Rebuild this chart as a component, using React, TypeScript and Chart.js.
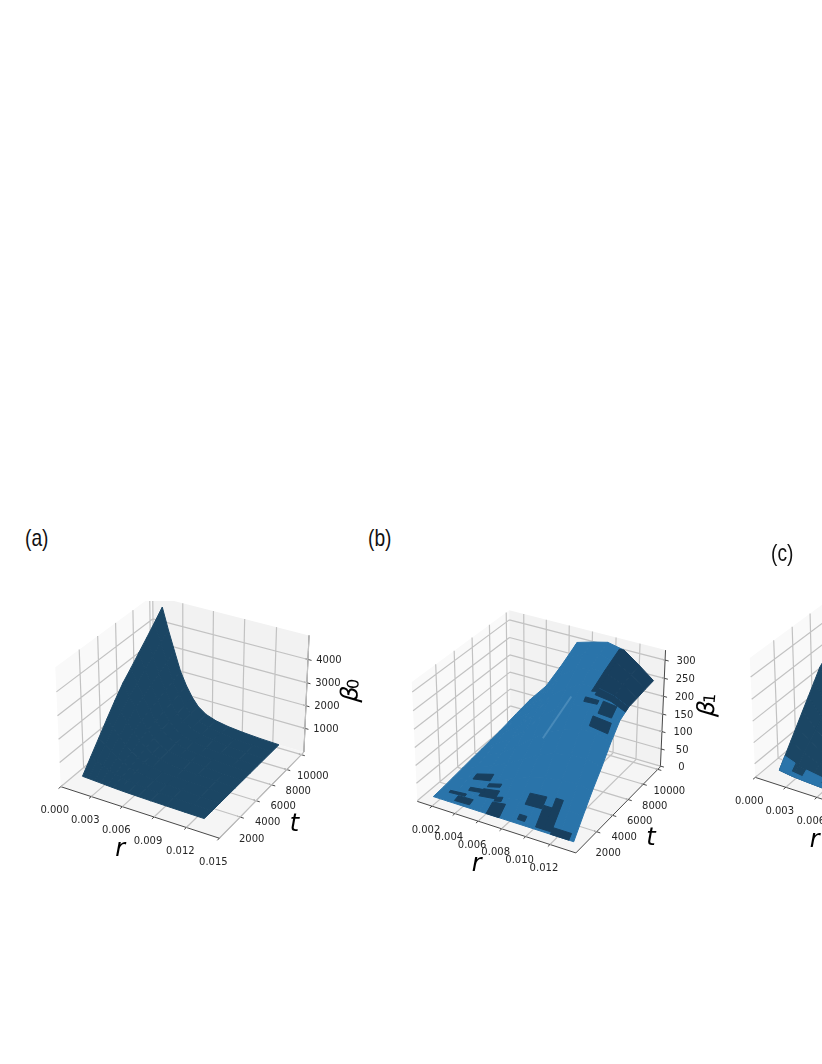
import React, { useEffect, useRef } from "react";
import { Chart, registerables } from "chart.js";

Chart.register(...registerables);

// ---------- axis limits and ticks ----------
const tLimits = [-500, 10360];
const tTicks = [2000, 4000, 6000, 8000, 10000];
const rLimitsA = [0, 0.015];
const rTicksA = [0, 0.003, 0.006, 0.009, 0.012, 0.015];
const zLimitsA = [-67, 5013];
const zTicksA = [1000, 2000, 3000, 4000];
const rLimitsB = [0.0007, 0.0141];
const rTicksB = [0.002, 0.004, 0.006, 0.008, 0.01, 0.012];
const zLimitsB = [-2, 327];
const zTicksB = [0, 50, 100, 150, 200, 250, 300];
const rLimitsC = [0, 0.015];
const rTicksC = [0, 0.003, 0.006, 0.009, 0.012, 0.015];
const zLimitsC = [352, 5850];
const zTicksC = [1000, 2000, 3000, 4000, 5000];

// ---------- panel (a): beta_0(r, t), one row per r ----------
const rA = [0.0012, 0.0018, 0.0024, 0.003, 0.0036, 0.0042, 0.0048, 0.0056, 0.0066, 0.0078, 0.0092, 0.011, 0.0128];
const tA = [570, 1520, 2470, 3420, 4360, 5320, 6270, 7210, 8160, 9110, 10060];
const betaA = [
  [200, 730, 1260, 1790, 2300, 2780, 3150, 3540, 3920, 4320, 4730],
  [185, 613, 1040, 1468, 1882, 2273, 2570, 2890, 3210, 3510, 3800],
  [170, 509, 849, 1188, 1517, 1827, 2050, 2290, 2510, 2730, 2950],
  [155, 406, 657, 908, 1151, 1380, 1526, 1672, 1814, 1958, 2120],
  [140, 321, 501, 682, 857, 1022, 1127, 1232, 1334, 1438, 1540],
  [125, 248, 371, 495, 614, 727, 798, 870, 940, 1010, 1080],
  [112, 193, 274, 355, 434, 508, 555, 602, 648, 694, 740],
  [100, 149, 198, 247, 295, 339, 368, 396, 424, 452, 480],
  [90, 120, 149, 179, 208, 235, 252, 269, 286, 303, 320],
  [80, 98, 116, 134, 152, 168, 179, 189, 199, 210, 220],
  [70, 80, 91, 101, 111, 120, 126, 132, 138, 144, 150],
  [60, 65, 69, 74, 78, 82, 85, 87, 90, 92, 95],
  [50, 51, 53, 54, 55, 56, 57, 58, 59, 59, 60],
];

// ---------- panel (b): beta_1(r, t), one row per r ----------
const rB = [0.0015, 0.0028, 0.0042, 0.0055, 0.0069, 0.0082, 0.0095, 0.0109, 0.0122, 0.0134];
const tB = [270, 1360, 2450, 3530, 4620, 5710, 6800, 7890, 8970, 10060];
const betaB = [
  [3, 6, 10, 14, 18, 22, 26, 30, 35, 41],
  [3, 10, 20, 31, 42, 53, 64, 75, 85, 95],
  [3, 16, 32, 48, 64, 80, 96, 112, 128, 146],
  [3, 22, 44, 68, 92, 118, 141, 167, 192, 214],
  [3, 30, 62, 95, 130, 170, 206, 240, 270, 293],
  [3, 38, 78, 118, 160, 202, 238, 268, 290, 305],
  [3, 45, 90, 135, 180, 225, 260, 284, 302, 315],
  [3, 50, 98, 145, 192, 235, 262, 280, 293, 305],
  [3, 52, 100, 148, 195, 235, 252, 262, 270, 274],
  [3, 50, 95, 135, 180, 218, 233, 236, 240, 243],
];
// cells of the mesh drawn dark: [r index, t index]
const darkCellsB = [[7, 6], [7, 7], [7, 8], [8, 6], [8, 7], [8, 8]];
// dark regions: r0, r1, t0, t1, beta at (r0,t0), (r1,t0), (r0,t1), (r1,t1)
const darkRegionsB = [
  [0.0061, 0.0072, 270, 1020, 3, 3, 19, 24],
  [0.0087, 0.0101, 1240, 1830, 35, 37, 53, 57],
  [0.0086, 0.0092, 480, 750, 9, 9, 17, 17],
  [0.0102, 0.0109, 370, 1350, 7, 7, 45, 45],
  [0.0109, 0.0115, 370, 1780, 7, 7, 63, 63],
  [0.0115, 0.013, 270, 590, 3, 3, 14, 14],
  [0.0034, 0.0049, 2320, 2760, 28, 38, 33, 47],
  [0.0049, 0.006, 2000, 2215, 28, 38, 32, 42],
  [0.0047, 0.0061, 1290, 1835, 16, 22, 24, 32],
  [0.0036, 0.0049, 1560, 1780, 14, 20, 18, 24],
  [0.0061, 0.0067, 1180, 1400, 18, 23, 24, 30],
  [0.0023, 0.0037, 1020, 1180, 7, 10, 9, 13],
  [0.0032, 0.0045, 480, 910, 5, 6, 9, 11],
  [0.0105, 0.0109, 6560, 8190, 255, 258, 280, 282],
  [0.0105, 0.0109, 8190, 10060, 280, 282, 305, 305],
  [0.0109, 0.0122, 6400, 6800, 252, 246, 262, 252],
  [0.0122, 0.0134, 6400, 6800, 246, 228, 252, 233],
  [0.0103, 0.0114, 5910, 6120, 238, 240, 246, 246],
  [0.0117, 0.0128, 5580, 6230, 225, 222, 245, 240],
  [0.0114, 0.0129, 4985, 5420, 200, 192, 218, 212],
];
// the lighter crease on the surface: r, t, beta
const creaseB = [[0.0079, 4450, 143], [0.009, 6290, 232]];

// ---------- panel (c): beta_2(r, t), one row per r ----------
const rC = [0.0012, 0.0025, 0.004, 0.0055, 0.0075];
const tC = [805, 1460, 2150, 2840, 3530, 4230, 4920, 5610, 7090, 10060];
const betaC = [
  [400, 840, 1307, 1774, 2241, 2708, 3175, 3643, 4200, 5200],
  [300, 600, 930, 1260, 1590, 1900, 2220, 2550, 2950, 3640],
  [250, 420, 620, 820, 1020, 1230, 1430, 1640, 1890, 2340],
  [200, 320, 440, 570, 700, 830, 960, 1090, 1260, 1560],
  [150, 220, 290, 360, 440, 520, 590, 680, 780, 960],
];
const blueRegionsC = [
  [0.0012, 0.0022, 805, 1460, 400, 320, 840, 660],
  [0.0022, 0.0033, 805, 1000, 320, 270, 420, 340],
  [0.0033, 0.005, 805, 1460, 265, 215, 490, 350],
  [0.005, 0.0075, 805, 1050, 215, 150, 290, 200],
];

// ---------- view (matplotlib's 3D camera) ----------
const BOX = [1.143, 1.143, 0.857];
const DIST = 10;
const N = [0.433, -0.75, 0.5];
const U = [0.866, 0.5, 0];
const V = [-0.25, 0.433, 0.866];
const PX_PER_UNIT = 1590;
const dot = (a: number[], b: number[]) => a[0] * b[0] + a[1] * b[1] + a[2] * b[2];

function camera(xn: number, yn: number, zn: number) {
  const p = [(xn - 0.5) * BOX[0], (yn - 0.5) * BOX[1], (zn - 0.5) * BOX[2]];
  const d = DIST - dot(N, p);
  return { x: dot(U, p) / d, y: dot(V, p) / d };
}

type Panel = {
  left: number; top: number; width: number; height: number; cx: number; cy: number;
  rLim: number[]; zLim: number[]; rTicks: number[]; zTicks: number[];
  r: number[]; t: number[]; beta: number[][];
  surfaceColor: string; darkCells?: number[][]; regions: { color: string; list: number[][] }[];
  crease?: number[][]; zSub: string;
};

const DARK = "#183f5e";
const NAVY = "#1b4664";
const BLUE = "#2a74aa";

const panels: Panel[] = [
  {
    left: 0, top: 601, width: 365, height: 280, cx: 184.5, cy: 711.3,
    rLim: rLimitsA, zLim: zLimitsA, rTicks: rTicksA, zTicks: zTicksA,
    r: rA, t: tA, beta: betaA, surfaceColor: NAVY, regions: [], zSub: "0",
  },
  {
    left: 365, top: 601, width: 365, height: 290, cx: 541, cy: 726,
    rLim: rLimitsB, zLim: zLimitsB, rTicks: rTicksB, zTicks: zTicksB,
    r: rB, t: tB, beta: betaB, surfaceColor: BLUE, darkCells: darkCellsB,
    regions: [{ color: DARK, list: darkRegionsB }], crease: creaseB, zSub: "1",
  },
  {
    left: 730, top: 560, width: 92, height: 320, cx: 879, cy: 702,
    rLim: rLimitsC, zLim: zLimitsC, rTicks: rTicksC, zTicks: zTicksC,
    r: rC, t: tC, beta: betaC, surfaceColor: NAVY,
    regions: [{ color: BLUE, list: blueRegionsC }], zSub: "2",
  },
];

function buildChart(canvas: HTMLCanvasElement, pn: Panel) {
  const nx = (r: number) => (r - pn.rLim[0]) / (pn.rLim[1] - pn.rLim[0]);
  const ny = (t: number) => (t - tLimits[0]) / (tLimits[1] - tLimits[0]);
  const nz = (z: number) => (z - pn.zLim[0]) / (pn.zLim[1] - pn.zLim[0]);
  const gap = { x: NaN, y: NaN };

  const surface: { x: number; y: number }[] = [];
  pn.r.forEach((r, i) => pn.t.forEach((t, j) => surface.push(camera(nx(r), ny(t), nz(pn.beta[i][j])))));

  const panes = [
    camera(0, 0, 0), camera(0, 1, 0), camera(0, 1, 1), camera(0, 0, 1),
    camera(0, 1, 0), camera(1, 1, 0), camera(1, 1, 1), camera(0, 1, 1),
    camera(0, 0, 0), camera(1, 0, 0), camera(1, 1, 0), camera(0, 1, 0),
  ];

  const grid: { x: number; y: number }[] = [];
  const seg = (a: number[], b: number[]) => grid.push(camera(a[0], a[1], a[2]), camera(b[0], b[1], b[2]), gap);
  pn.rTicks.forEach((v) => { const x = nx(v); seg([x, 0, 0], [x, 1, 0]); seg([x, 1, 0], [x, 1, 1]); });
  tTicks.forEach((v) => { const y = ny(v); seg([0, y, 0], [1, y, 0]); seg([0, y, 0], [0, y, 1]); });
  pn.zTicks.forEach((v) => { const z = nz(v); seg([0, 0, z], [0, 1, z]); seg([0, 1, z], [1, 1, z]); });

  const axes: { x: number; y: number }[] = [];
  const aseg = (a: number[], b: number[]) => axes.push(camera(a[0], a[1], a[2]), camera(b[0], b[1], b[2]), gap);
  aseg([0, 0, 0], [1, 0, 0]); aseg([1, 0, 0], [1, 1, 0]); aseg([1, 1, 0], [1, 1, 1]);
  pn.rTicks.forEach((v) => { const x = nx(v); aseg([x, -0.022, 0], [x, 0.016, 0]); });
  tTicks.forEach((v) => { const y = ny(v); aseg([1.022, y, 0], [0.984, y, 0]); });
  pn.zTicks.forEach((v) => { const z = nz(v); aseg([1.022, 1, z], [0.984, 1, z]); });

  const regionPts = pn.regions.map((g) => {
    const pts: { x: number; y: number }[] = [];
    g.list.forEach(([r0, r1, t0, t1, b00, b10, b01, b11]) => {
      pts.push(camera(nx(r0), ny(t0), nz(b00)), camera(nx(r1), ny(t0), nz(b10)), camera(nx(r1), ny(t1), nz(b11)), camera(nx(r0), ny(t1), nz(b01)));
    });
    return pts;
  });
  const creasePts = (pn.crease || []).map(([r, t, b]) => camera(nx(r), ny(t), nz(b)));

  const labelDefs: { x: number; y: number; dx: number; dy: number; text: string; font: string; rot?: number }[] = [];
  const tickFont = "10px 'DejaVu Sans'";
  pn.rTicks.forEach((v) => { const c = camera(nx(v), 0, 0); labelDefs.push({ ...c, dx: -6, dy: 24, text: v.toFixed(3), font: tickFont }); });
  tTicks.forEach((v) => { const c = camera(1, ny(v), 0); labelDefs.push({ ...c, dx: 11.5, dy: 22, text: String(v), font: tickFont }); });
  pn.zTicks.forEach((v) => { const c = camera(1, 1, nz(v)); labelDefs.push({ ...c, dx: 21, dy: 1, text: String(v), font: tickFont }); });
  const bigFont = "italic 24px 'DejaVu Sans'";
  const midZ = camera(1, 1, 0.5);
  labelDefs.push({ ...camera(0.5, 0, 0), dx: -18, dy: 38, text: "r", font: bigFont });
  labelDefs.push({ ...camera(1, 0.5, 0), dx: 31, dy: 31, text: "t", font: bigFont });
  labelDefs.push({ ...midZ, dx: 45, dy: -1, text: "β", font: bigFont, rot: -1.48 });
  labelDefs.push({ ...midZ, dx: 48, dy: -11, text: pn.zSub, font: "16px 'DejaVu Sans'", rot: -1.48 });

  const nT = pn.t.length;
  const isDark = (i: number, j: number) => (pn.darkCells || []).some((c) => c[0] === i && c[1] === j);
  const regionStart = 4;
  const creaseIndex = regionStart + pn.regions.length;

  const plugin = {
    id: "surface3d",
    beforeDatasetsDraw(chart: any) {
      const c = chart.ctx;
      const pts = chart.getDatasetMeta(0).data;
      const colors = ["#f9f9f9", "#f2f2f2", "#f5f5f5"];
      colors.forEach((col, k) => {
        c.beginPath();
        for (let q = 0; q < 4; q++) {
          const e = pts[k * 4 + q];
          if (q === 0) c.moveTo(e.x, e.y); else c.lineTo(e.x, e.y);
        }
        c.closePath();
        c.fillStyle = col;
        c.fill();
      });
    },
    afterDatasetsDraw(chart: any) {
      const c = chart.ctx;
      const pts = chart.getDatasetMeta(3).data;
      const quad = (a: any, b: any, d: any, e: any, col: string) => {
        c.beginPath();
        c.moveTo(a.x, a.y); c.lineTo(b.x, b.y); c.lineTo(d.x, d.y); c.lineTo(e.x, e.y);
        c.closePath();
        c.fillStyle = col; c.strokeStyle = col; c.lineWidth = 1;
        c.lineJoin = "round";
        c.fill(); c.stroke();
      };
      for (let i = 0; i < pn.r.length - 1; i++) {
        for (let j = nT - 2; j >= 0; j--) {
          quad(pts[i * nT + j], pts[(i + 1) * nT + j], pts[(i + 1) * nT + j + 1], pts[i * nT + j + 1],
            isDark(i, j) ? DARK : pn.surfaceColor);
        }
      }
      if (creasePts.length) {
        const cp = chart.getDatasetMeta(creaseIndex).data;
        c.beginPath();
        c.moveTo(cp[0].x, cp[0].y);
        for (let k = 1; k < cp.length; k++) c.lineTo(cp[k].x, cp[k].y);
        c.strokeStyle = "rgba(130,180,215,0.35)";
        c.lineWidth = 2;
        c.stroke();
      }
      pn.regions.forEach((g, gi) => {
        const rp = chart.getDatasetMeta(regionStart + gi).data;
        for (let k = 0; k + 3 < rp.length; k += 4) quad(rp[k], rp[k + 1], rp[k + 2], rp[k + 3], g.color);
      });
      const xs = chart.scales.x, ys = chart.scales.y;
      c.textAlign = "center"; c.textBaseline = "middle";
      labelDefs.forEach((l) => {
        const px = xs.getPixelForValue(l.x) + l.dx;
        const py = ys.getPixelForValue(l.y) + l.dy;
        c.save();
        c.translate(px, py);
        if (l.rot) c.rotate(l.rot);
        c.font = l.font;
        c.fillStyle = l.font === tickFont ? "#262626" : "#000";
        c.fillText(l.text, 0, 0);
        c.restore();
      });
    },
  };

  const hidden = { pointRadius: 0, showLine: false };
  return new Chart(canvas, {
    type: "scatter",
    data: {
      datasets: [
        { label: "panes", data: panes, ...hidden },
        { label: "grid", data: grid, pointRadius: 0, showLine: true, spanGaps: false, borderColor: "#c2c2c2", borderWidth: 1.2 },
        { label: "axes", data: axes, pointRadius: 0, showLine: true, spanGaps: false, borderColor: "#1a1a1a", borderWidth: 0.8 },
        { label: "surface", data: surface, ...hidden },
        ...regionPts.map((d, i) => ({ label: "regions " + i, data: d, ...hidden })),
        { label: "crease", data: creasePts, ...hidden },
      ],
    },
    options: {
      animation: false,
      responsive: false,
      events: [],
      layout: { padding: 0 },
      plugins: { legend: { display: false }, tooltip: { enabled: false } },
      scales: {
        x: { type: "linear", display: false, min: (pn.left - pn.cx) / PX_PER_UNIT, max: (pn.left + pn.width - pn.cx) / PX_PER_UNIT },
        y: { type: "linear", display: false, max: (pn.cy - pn.top) / PX_PER_UNIT, min: (pn.cy - pn.top - pn.height) / PX_PER_UNIT },
      },
    },
    plugins: [plugin],
  } as any);
}

const panelTitles = [
  { text: "(a)", left: 25, top: 538 },
  { text: "(b)", left: 368, top: 538 },
  { text: "(c)", left: 771, top: 553 },
];

function PanelCanvas({ panel }: { panel: Panel }) {
  const ref = useRef<HTMLCanvasElement>(null);
  useEffect(() => {
    const chart = buildChart(ref.current as HTMLCanvasElement, panel);
    return () => chart.destroy();
  }, [panel]);
  return (
    <canvas
      ref={ref}
      width={panel.width}
      height={panel.height}
      style={{ position: "absolute", left: panel.left, top: panel.top, width: panel.width, height: panel.height, filter: "blur(0.4px)" }}
    />
  );
}

export default function App() {
  return (
    <div style={{ position: "absolute", left: 0, top: 0, width: 822, height: 1064, overflow: "hidden", background: "#fff" }}>
      {panels.map((p, i) => <PanelCanvas key={i} panel={p} />)}
      {panelTitles.map((t) => (
        <div key={t.text} style={{ position: "absolute", left: t.left, top: t.top - 15, height: 30, lineHeight: "30px", fontFamily: "'Liberation Sans'", fontSize: 24, color: "#111", transform: "scaleX(0.8)", transformOrigin: "left center" }}>
          {t.text}
        </div>
      ))}
    </div>
  );
}
